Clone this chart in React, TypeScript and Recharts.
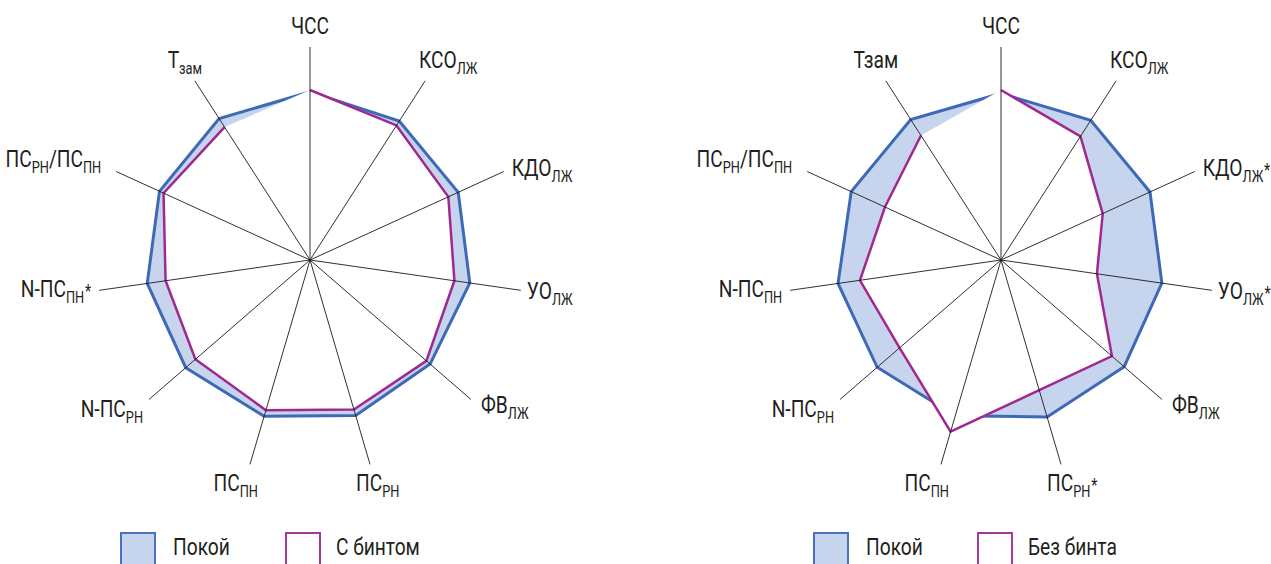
import React from 'react';
import { RadarChart, Radar, PolarGrid, PolarAngleAxis, PolarRadiusAxis } from 'recharts';

// axis labels: _{..} = subscript, trailing * = asterisk
const AXES_LEFT = ['ЧСС', 'КСО_{ЛЖ}', 'КДО_{ЛЖ}', 'УО_{ЛЖ}', 'ФВ_{ЛЖ}', 'ПС_{РН}', 'ПС_{ПН}', 'N-ПС_{РН}', 'N-ПС_{ПН}*', 'ПС_{РН}/ПС_{ПН}', 'Т_{зам}'];
const AXES_RIGHT = ['ЧСС', 'КСО_{ЛЖ}', 'КДО_{ЛЖ}*', 'УО_{ЛЖ}*', 'ФВ_{ЛЖ}', 'ПС_{РН}*', 'ПС_{ПН}', 'N-ПС_{РН}', 'N-ПС_{ПН}', 'ПС_{РН}/ПС_{ПН}', 'Тзам'];

// values on a 0–100 scale (100 = end of axis)
const REST_LEFT = [78.9, 77.5, 76.5, 75.8, 74.6, 76.1, 76.5, 77.2, 77.2, 77.7, 78.9];
const WITH_BANDAGE = [79.8, 75.1, 71.4, 68.5, 72.3, 73.2, 73.5, 71.2, 68.5, 75.6, 74.2];
const REST_RIGHT = [78.2, 77.9, 76.9, 76.3, 76.5, 76.8, 76.2, 76.9, 77.3, 77.3, 78.4];
const NO_BANDAGE = [79.8, 69.0, 52.5, 45.5, 68.9, 63.7, 84.0, 63.0, 66.9, 59.9, 69.5];

const LEGEND_REST = 'Покой';
const LEGEND_LEFT = 'С бинтом';
const LEGEND_RIGHT = 'Без бинта';

const BLUE = '#3e69b6';
const BLUE_FILL = '#c6d5ed';
const PURPLE = '#a0288e';
const TEXT = '#231f20';
const FONT = 'Roboto, sans-serif';
const SX = 0.8; // horizontal squeeze to mimic the condensed face

const R = 213;
const CY = 260;

// label placement relative to the axis end: [dx, baseline dy, anchor]
const LABEL_POS: [number, number, 'start' | 'middle' | 'end'][] = [
  [0, -13.5, 'middle'],
  [23, -13, 'middle'],
  [8, 4.5, 'start'],
  [6, 9, 'start'],
  [10, 14, 'start'],
  [-14, 27, 'start'],
  [8, 27, 'end'],
  [-6, 18, 'end'],
  [-8, 7, 'end'],
  [-15, -4.5, 'end'],
  [-10, -13, 'middle'],
];

const renderLabel = (label: string) => {
  const parts = label.split(/(_\{[^}]*\}|\*)/).filter(Boolean);
  let shift = 0;
  return parts.map((p, i) => {
    if (p.startsWith('_{')) {
      const dy = 6 - shift;
      shift = 6;
      return <tspan key={i} fontSize={16} dy={dy}>{p.slice(2, -1)}</tspan>;
    }
    const dy = -shift;
    shift = 0;
    if (p === '*') {
      return <tspan key={i} fontSize={18} dy={dy} dx={1}>*</tspan>;
    }
    return <tspan key={i} dy={dy}>{p}</tspan>;
  });
};

const makeTick = (labels: string[], cx: number) => (props: any) => {
  const i = props.index;
  const ang = (90 - (i * 360) / labels.length) * Math.PI / 180;
  const ex = cx + R * Math.cos(ang);
  const ey = CY - R * Math.sin(ang);
  const [dx, dy, anchor] = LABEL_POS[i];
  return (
    <text transform={`translate(${ex + dx},${ey + dy}) scale(${SX},1)`} textAnchor={anchor} fontFamily={FONT} fontSize={24} fill={TEXT}>
      {renderLabel(labels[i])}
    </text>
  );
};

// closed fill, but the outline is left open between the last and first axis
const OpenShape = (fill: string, stroke: string, width: number) => (props: any) => {
  const pts: { x: number; y: number }[] = props.points || [];
  if (!pts.length) return null;
  const line = pts.map((p, i) => `${i ? 'L' : 'M'}${p.x},${p.y}`).join('');
  return (
    <g>
      <path d={line + 'Z'} fill={fill} stroke="none" />
      <path d={line} fill="none" stroke={stroke} strokeWidth={width} />
    </g>
  );
};

const Spider = ({ labels, rest, other, cx, width }: { labels: string[]; rest: number[]; other: number[]; cx: number; width: number }) => {
  const data = labels.map((name, i) => ({ name, rest: rest[i], other: other[i] }));
  return (
    <RadarChart width={width} height={520} data={data} cx={cx} cy={CY} outerRadius={R} margin={{ top: 0, right: 0, bottom: 0, left: 0 }}>
      <PolarRadiusAxis domain={[0, 100]} tick={false} axisLine={false} />
      <Radar dataKey="rest" stroke={BLUE} strokeWidth={3} fill={BLUE_FILL} fillOpacity={1} dot={false} isAnimationActive={false} />
      <Radar dataKey="other" dot={false} isAnimationActive={false} shape={OpenShape('#ffffff', PURPLE, 2.5)} />
      <PolarGrid gridType="polygon" polarRadius={[]} stroke="#1a1a1a" strokeWidth={0.9} zIndex={1000} />
      <PolarAngleAxis dataKey="name" axisLine={false} tickLine={false} tick={makeTick(labels, cx)} />
    </RadarChart>
  );
};

const LegendRow = ({ x1, x2, label }: { x1: number; x2: number; label: string }) => (
  <g fontFamily={FONT} fontSize={24} fill={TEXT}>
    <rect x={x1} y={533} width={34} height={34} fill={BLUE_FILL} stroke="#4a72b9" strokeWidth={2} />
    <text transform={`translate(${x1 + 52},555) scale(${SX},1)`}>{LEGEND_REST}</text>
    <rect x={x2} y={533} width={34} height={34} fill="#ffffff" stroke="#a23a9b" strokeWidth={2} />
    <text transform={`translate(${x2 + 50},555) scale(${SX},1)`}>{label}</text>
  </g>
);

export default function App() {
  return (
    <div style={{ position: 'absolute', left: 0, top: 0, width: 1271, height: 564, overflow: 'hidden', background: '#fff' }}>
      <div style={{ position: 'absolute', left: 0, top: 0 }}>
        <Spider labels={AXES_LEFT} rest={REST_LEFT} other={WITH_BANDAGE} cx={310} width={635} />
      </div>
      <div style={{ position: 'absolute', left: 635, top: 0 }}>
        <Spider labels={AXES_RIGHT} rest={REST_RIGHT} other={NO_BANDAGE} cx={366} width={636} />
      </div>
      <svg width={1271} height={564} style={{ position: 'absolute', left: 0, top: 0, pointerEvents: 'none' }}>
        <LegendRow x1={121} x2={286} label={LEGEND_LEFT} />
        <LegendRow x1={814} x2={978} label={LEGEND_RIGHT} />
      </svg>
    </div>
  );
}
